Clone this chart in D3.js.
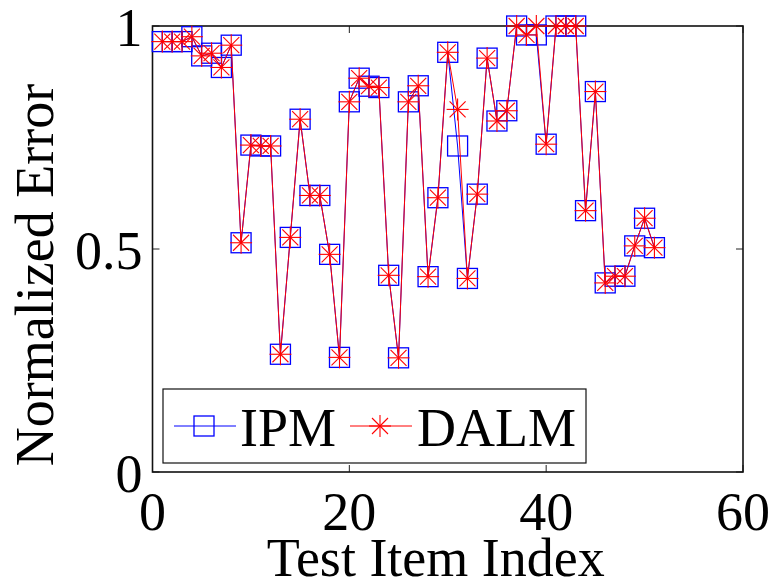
<!DOCTYPE html>
<html>
<head>
<meta charset="utf-8">
<script src="https://cdn.jsdelivr.net/npm/d3@7"></script>
<style>
  html, body { margin: 0; padding: 0; background: #fff; }
  svg { display: block; }
</style>
</head>
<body>
<div id="chart"></div>
<script>
// test item index (x) and normalized error of each solver
const testIndex = [1, 2, 3, 4, 5, 6, 7, 8, 9, 10, 11, 12, 13, 14, 15, 16, 17, 18, 19, 20,
  21, 22, 23, 24, 25, 26, 27, 28, 29, 30, 31, 32, 33, 34, 35, 36, 37, 38, 39, 40,
  41, 42, 43, 44, 45, 46, 47, 48, 49, 50, 51]

const ipmError = [0.965, 0.965, 0.965, 0.976, 0.933, 0.939, 0.907, 0.957, 0.514, 0.733,
  0.731, 0.731, 0.264, 0.526, 0.791, 0.62, 0.62, 0.488, 0.257, 0.830,
  0.883, 0.865, 0.862, 0.441, 0.256, 0.830, 0.866, 0.438, 0.615, 0.941,
  0.731, 0.434, 0.623, 0.928, 0.787, 0.810, 1.0, 0.980, 0.980, 0.735,
  1.0, 1.0, 1.0, 0.586, 0.853, 0.424, 0.439, 0.439, 0.507, 0.569, 0.503]

const dalmError = [0.965, 0.965, 0.965, 0.976, 0.933, 0.939, 0.907, 0.957, 0.514, 0.733,
  0.731, 0.731, 0.264, 0.526, 0.791, 0.62, 0.62, 0.488, 0.257, 0.830,
  0.883, 0.865, 0.862, 0.441, 0.256, 0.830, 0.866, 0.438, 0.615, 0.941,
  0.813, 0.434, 0.623, 0.928, 0.787, 0.810, 1.0, 0.980, 1.0, 0.735,
  1.0, 1.0, 1.0, 0.586, 0.853, 0.424, 0.439, 0.439, 0.507, 0.569, 0.503]

const xTicks = [0, 20, 40, 60]
const yTicks = [0, 0.5, 1]
const yTickLabels = ["0", "0.5", "1"]

const width = 774
const height = 585
const margin = { left: 152.5, right: 31, top: 26, bottom: 113 }
const font = "'Liberation Serif', 'Times New Roman', serif"

const svg = d3.select("#chart").append("svg")
  .attr("width", width)
  .attr("height", height)

const x = d3.scaleLinear().domain([0, 60]).range([margin.left, width - margin.right])
const y = d3.scaleLinear().domain([0, 1]).range([height - margin.bottom, margin.top])

const x0 = x.range()[0], x1 = x.range()[1]
const y0 = y.range()[0], y1 = y.range()[1]

// ticks (inward) on all four sides
const tickLen = 7
const axG = svg.append("g").attr("stroke", "#222").attr("stroke-width", 1)
xTicks.forEach(t => {
  axG.append("line").attr("x1", x(t)).attr("x2", x(t)).attr("y1", y0).attr("y2", y0 - tickLen)
  axG.append("line").attr("x1", x(t)).attr("x2", x(t)).attr("y1", y1).attr("y2", y1 + tickLen)
})
yTicks.forEach(t => {
  axG.append("line").attr("x1", x0).attr("x2", x0 + tickLen).attr("y1", y(t)).attr("y2", y(t))
  axG.append("line").attr("x1", x1).attr("x2", x1 - tickLen).attr("y1", y(t)).attr("y2", y(t))
})

// box
svg.append("rect")
  .attr("x", x0).attr("y", y1)
  .attr("width", x1 - x0).attr("height", y0 - y1)
  .attr("fill", "none")
  .attr("stroke", "#111")
  .attr("stroke-width", 1.6)

// tick labels
svg.append("g").selectAll("text")
  .data(xTicks)
  .join("text")
  .attr("x", d => x(d))
  .attr("y", y0 + 58)
  .attr("text-anchor", "middle")
  .attr("font-family", font)
  .attr("font-size", 54)
  .text(d => d)

svg.append("g").selectAll("text")
  .data(yTicks)
  .join("text")
  .attr("x", x0 - 10)
  .attr("y", d => y(d) + 20)
  .attr("text-anchor", "end")
  .attr("font-family", font)
  .attr("font-size", 54)
  .text((d, i) => yTickLabels[i])

// axis titles
svg.append("text")
  .attr("x", (x0 + x1) / 2 - 12)
  .attr("y", 576)
  .attr("text-anchor", "middle")
  .attr("font-family", font)
  .attr("font-size", 54)
  .text("Test Item Index")

svg.append("text")
  .attr("transform", `translate(53,${275}) rotate(-90)`)
  .attr("text-anchor", "middle")
  .attr("font-family", font)
  .attr("font-size", 54)
  .text("Normalized Error")

// markers
const boxHalf = 10
function drawSquare(g, cx, cy, color) {
  g.append("rect")
    .attr("x", cx - boxHalf).attr("y", cy - boxHalf)
    .attr("width", boxHalf * 2).attr("height", boxHalf * 2)
    .attr("fill", "none")
    .attr("stroke", color)
    .attr("stroke-width", 1.3)
}
function drawStar(g, cx, cy, color) {
  const r = 11, d = 8
  const segs = [[-r, 0, r, 0], [0, -r, 0, r], [-d, -d, d, d], [-d, d, d, -d]]
  segs.forEach(s => {
    g.append("line")
      .attr("x1", cx + s[0]).attr("y1", cy + s[1])
      .attr("x2", cx + s[2]).attr("y2", cy + s[3])
      .attr("stroke", color)
      .attr("stroke-width", 1.1)
  })
}

const line = d3.line()
  .x(d => x(d[0]))
  .y(d => y(d[1]))

const ipmPts = testIndex.map((t, i) => [t, ipmError[i]])
const dalmPts = testIndex.map((t, i) => [t, dalmError[i]])

const ipmG = svg.append("g")
ipmG.append("path")
  .attr("d", line(ipmPts))
  .attr("fill", "none")
  .attr("stroke", "#0000ff")
  .attr("stroke-width", 1)
ipmPts.forEach(p => drawSquare(ipmG, x(p[0]), y(p[1]), "#0000ff"))

const dalmG = svg.append("g")
dalmG.append("path")
  .attr("d", line(dalmPts))
  .attr("fill", "none")
  .attr("stroke", "#ff0000")
  .attr("stroke-width", 1)
dalmPts.forEach(p => drawStar(dalmG, x(p[0]), y(p[1]), "#ff0000"))

// legend
const leg = svg.append("g")
leg.append("rect")
  .attr("x", 163).attr("y", 389)
  .attr("width", 423).attr("height", 74)
  .attr("fill", "#fff")
  .attr("stroke", "#111")
  .attr("stroke-width", 1.2)

const legY = 426
leg.append("line").attr("x1", 174).attr("x2", 236).attr("y1", legY).attr("y2", legY)
  .attr("stroke", "#0000ff").attr("stroke-width", 1)
drawSquare(leg, 204, legY, "#0000ff")
leg.append("text")
  .attr("x", 240).attr("y", legY + 20)
  .attr("font-family", font).attr("font-size", 54)
  .text("IPM")

leg.append("line").attr("x1", 350).attr("x2", 412).attr("y1", legY).attr("y2", legY)
  .attr("stroke", "#ff0000").attr("stroke-width", 1)
drawStar(leg, 380, legY, "#ff0000")
leg.append("text")
  .attr("x", 417).attr("y", legY + 20)
  .attr("font-family", font).attr("font-size", 54)
  .text("DALM")
</script>
</body>
</html>
